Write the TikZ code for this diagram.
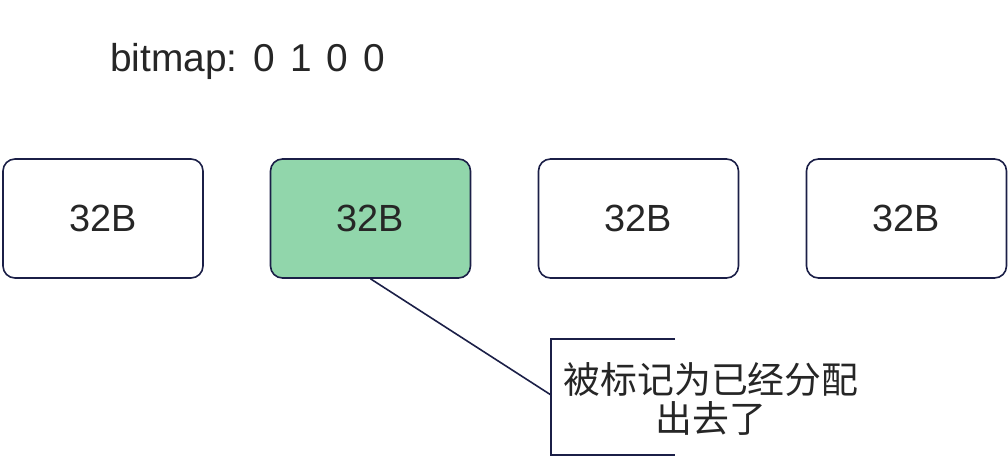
\documentclass[tikz,border=0pt]{standalone}
\usepackage{fontspec}
\setmainfont{Liberation Sans}
\newfontfamily\cjk{Noto Sans CJK SC}
\definecolor{edge}{HTML}{1B1F47}
\definecolor{alloc}{HTML}{91D6AB}
\begin{document}
\begin{tikzpicture}[x=1bp,y=-1bp,
  blockbox/.style={draw=edge,line width=1.6bp,rounded corners=12bp,minimum width=200bp,minimum height=119bp,inner sep=0pt,font=\fontsize{38}{44}\selectfont,text=black!85},
  lbl/.style={font=\fontsize{39}{44}\selectfont,text=black!85,inner sep=0pt},
  con/.style={draw=edge,line width=1.6bp}]
\useasboundingbox (0,0) rectangle (1008,458);
\node[lbl,anchor=base west] (bm) at (110,72) {bitmap:\hspace{16bp}0\hspace{15bp}1\hspace{15bp}0\hspace{15bp}0};
\node[blockbox] (b1) at (103,218.5) {32B};
\node[blockbox,fill=alloc] (b2) at (370.5,218.5) {32B};
\node[blockbox] (b3) at (638.5,218.5) {32B};
\node[blockbox] (b4) at (906.5,218.5) {32B};
\coordinate (bt) at (551,339);
\coordinate (bb) at (551,455);
\coordinate (btr) at (675,339);
\coordinate (bbr) at (675,455);
\coordinate (bm2) at (551,395);
\draw[con] (btr) -- (bt) -- (bb) -- (bbr);
\draw[con] (b2.south) -- (bm2);
\node[lbl,align=center,font=\cjk\fontsize{37}{39}\selectfont] (note) at (711,399) {被标记为已经分配\\出去了};
\end{tikzpicture}
\end{document}
